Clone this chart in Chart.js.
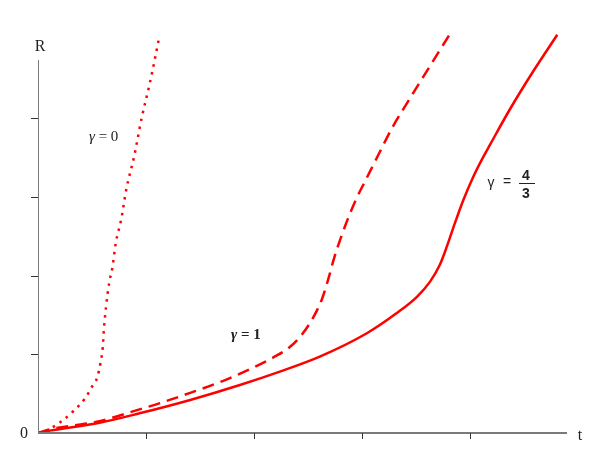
<!DOCTYPE html>
<html>
<head>
<meta charset="utf-8">
<script src="https://cdn.jsdelivr.net/npm/chart.js@4"></script>
<style>
  html, body { margin: 0; padding: 0; background: #fff; }
  #wrap { width: 599px; height: 474px; }
</style>
</head>
<body>
<div id="wrap"><canvas id="chart" width="599" height="474"></canvas></div>
<script>
// gamma = 0 (dotted)
const dottedT = [0, 0.09, 0.22, 0.33, 0.43, 0.51, 0.55, 0.58, 0.60, 0.61, 0.63, 0.66, 0.69, 0.72, 0.77, 0.82, 0.89, 0.96, 1.03, 1.09, 1.12];
const dottedR = [0, 0.04, 0.15, 0.28, 0.43, 0.61, 0.71, 0.90, 1.09, 1.31, 1.60, 1.91, 2.11, 2.41, 2.71, 3.11, 3.51, 4.00, 4.41, 4.80, 5.01];

// gamma = 1 (dashed)
const dashedT = [0, 0.09, 0.57, 0.94, 1.13, 1.41, 1.71, 1.96, 2.18, 2.33, 2.45, 2.55, 2.63, 2.69, 2.74, 2.80, 2.87, 2.95, 3.03, 3.14, 3.29, 3.44, 3.63, 3.82];
const dashedR = [0, 0.04, 0.15, 0.30, 0.38, 0.51, 0.66, 0.81, 0.96, 1.09, 1.26, 1.47, 1.70, 1.96, 2.21, 2.46, 2.72, 2.98, 3.20, 3.50, 3.90, 4.24, 4.66, 5.08];

// gamma = 4/3 (solid)
const solidT = [0, 0.11, 0.57, 0.94, 1.41, 1.87, 2.24, 2.61, 3.05, 3.32, 3.51, 3.63, 3.72, 3.79, 3.86, 3.94, 4.03, 4.11, 4.19, 4.37, 4.58, 4.81];
const solidR = [0, 0.03, 0.13, 0.25, 0.42, 0.61, 0.78, 0.97, 1.27, 1.52, 1.73, 1.92, 2.13, 2.38, 2.66, 2.96, 3.25, 3.47, 3.67, 4.11, 4.58, 5.06];

const xTicks = [1, 2, 3, 4];
const yTicks = [1, 2, 3, 4];
const yAxisTop = 4.74;

function toPoints(ts, rs) {
    return ts.map((t, i) => ({ x: t, y: rs[i] }));
}

// "γ = n" with an italic gamma, left aligned at x
function gammaLabel(ctx, text, x, y, bold) {
    ctx.textAlign = 'left';
    ctx.font = 'italic ' + (bold ? 'bold ' : '') + '15px "Liberation Serif"';
    ctx.fillText('\u03B3', x, y);
    const w = ctx.measureText('\u03B3').width;
    ctx.font = (bold ? 'bold ' : '') + '15px "Liberation Serif"';
    ctx.fillText(text, x + w, y);
}

// axes, ticks and the text labels
const axesPlugin = {
    id: 'axes',
    afterDatasetsDraw(chart) {
        const ctx = chart.ctx;
        const xs = chart.scales.x;
        const ys = chart.scales.y;
        const x0 = xs.getPixelForValue(0);
        const y0 = ys.getPixelForValue(0);
        ctx.save();

        // y axis
        ctx.strokeStyle = '#7a7a7a';
        ctx.lineWidth = 1;
        ctx.beginPath();
        ctx.moveTo(x0 + 0.5, ys.getPixelForValue(yAxisTop));
        ctx.lineTo(x0 + 0.5, y0);
        ctx.stroke();

        // x axis
        ctx.lineWidth = 2;
        ctx.beginPath();
        ctx.moveTo(x0, y0);
        ctx.lineTo(xs.getPixelForValue(xs.max), y0);
        ctx.stroke();

        // ticks
        ctx.strokeStyle = '#333';
        ctx.lineWidth = 1;
        yTicks.forEach(v => {
            const py = Math.round(ys.getPixelForValue(v)) + 0.5;
            ctx.beginPath();
            ctx.moveTo(x0 - 7, py);
            ctx.lineTo(x0, py);
            ctx.stroke();
        });
        xTicks.forEach(v => {
            const px = Math.round(xs.getPixelForValue(v)) + 0.5;
            ctx.beginPath();
            ctx.moveTo(px, y0);
            ctx.lineTo(px, y0 + 6);
            ctx.stroke();
        });

        ctx.fillStyle = '#222';
        ctx.textAlign = 'center';
        ctx.textBaseline = 'middle';
        ctx.font = '16px "Liberation Serif"';
        ctx.fillText('R', 40, 47);
        ctx.fillText('0', 24, 434);
        ctx.fillText('t', 580, 436);

        gammaLabel(ctx, ' = 0', 89, 137, false);
        gammaLabel(ctx, ' = 1', 231, 335, true);

        ctx.textAlign = 'center';
        ctx.font = '14px "Liberation Sans"';
        ctx.fillText('\u03B3', 491, 183);
        ctx.fillText('=', 507, 182);
        ctx.font = 'bold 14px "Liberation Sans"';
        ctx.fillText('4', 526, 176);
        ctx.fillText('3', 526, 194);
        ctx.strokeStyle = '#222';
        ctx.beginPath();
        ctx.moveTo(519, 183.5);
        ctx.lineTo(535, 183.5);
        ctx.stroke();

        ctx.restore();
    }
};

const ctx = document.getElementById('chart').getContext('2d');
new Chart(ctx, {
    type: 'scatter',
    data: {
        datasets: [
            {
                label: 'gamma = 0',
                data: toPoints(dottedT, dottedR),
                showLine: true,
                borderColor: '#ff0000',
                borderWidth: 2.5,
                borderDash: [2.5, 5.5],
                pointRadius: 0,
                cubicInterpolationMode: 'monotone'
            },
            {
                label: 'gamma = 1',
                data: toPoints(dashedT, dashedR),
                showLine: true,
                borderColor: '#ff0000',
                borderWidth: 2.5,
                borderDash: [12, 7],
                pointRadius: 0,
                cubicInterpolationMode: 'monotone'
            },
            {
                label: 'gamma = 4/3',
                data: toPoints(solidT, solidR),
                showLine: true,
                borderColor: '#ff0000',
                borderWidth: 2.5,
                pointRadius: 0,
                cubicInterpolationMode: 'monotone'
            }
        ]
    },
    options: {
        responsive: false,
        animation: false,
        layout: { padding: { left: 38, right: 32, top: 30, bottom: 41 } },
        plugins: {
            legend: { display: false },
            tooltip: { enabled: false }
        },
        scales: {
            x: { type: 'linear', min: 0, max: 4.9, display: false },
            y: { type: 'linear', min: 0, max: 5.12, display: false }
        }
    },
    plugins: [axesPlugin]
});
</script>
</body>
</html>
